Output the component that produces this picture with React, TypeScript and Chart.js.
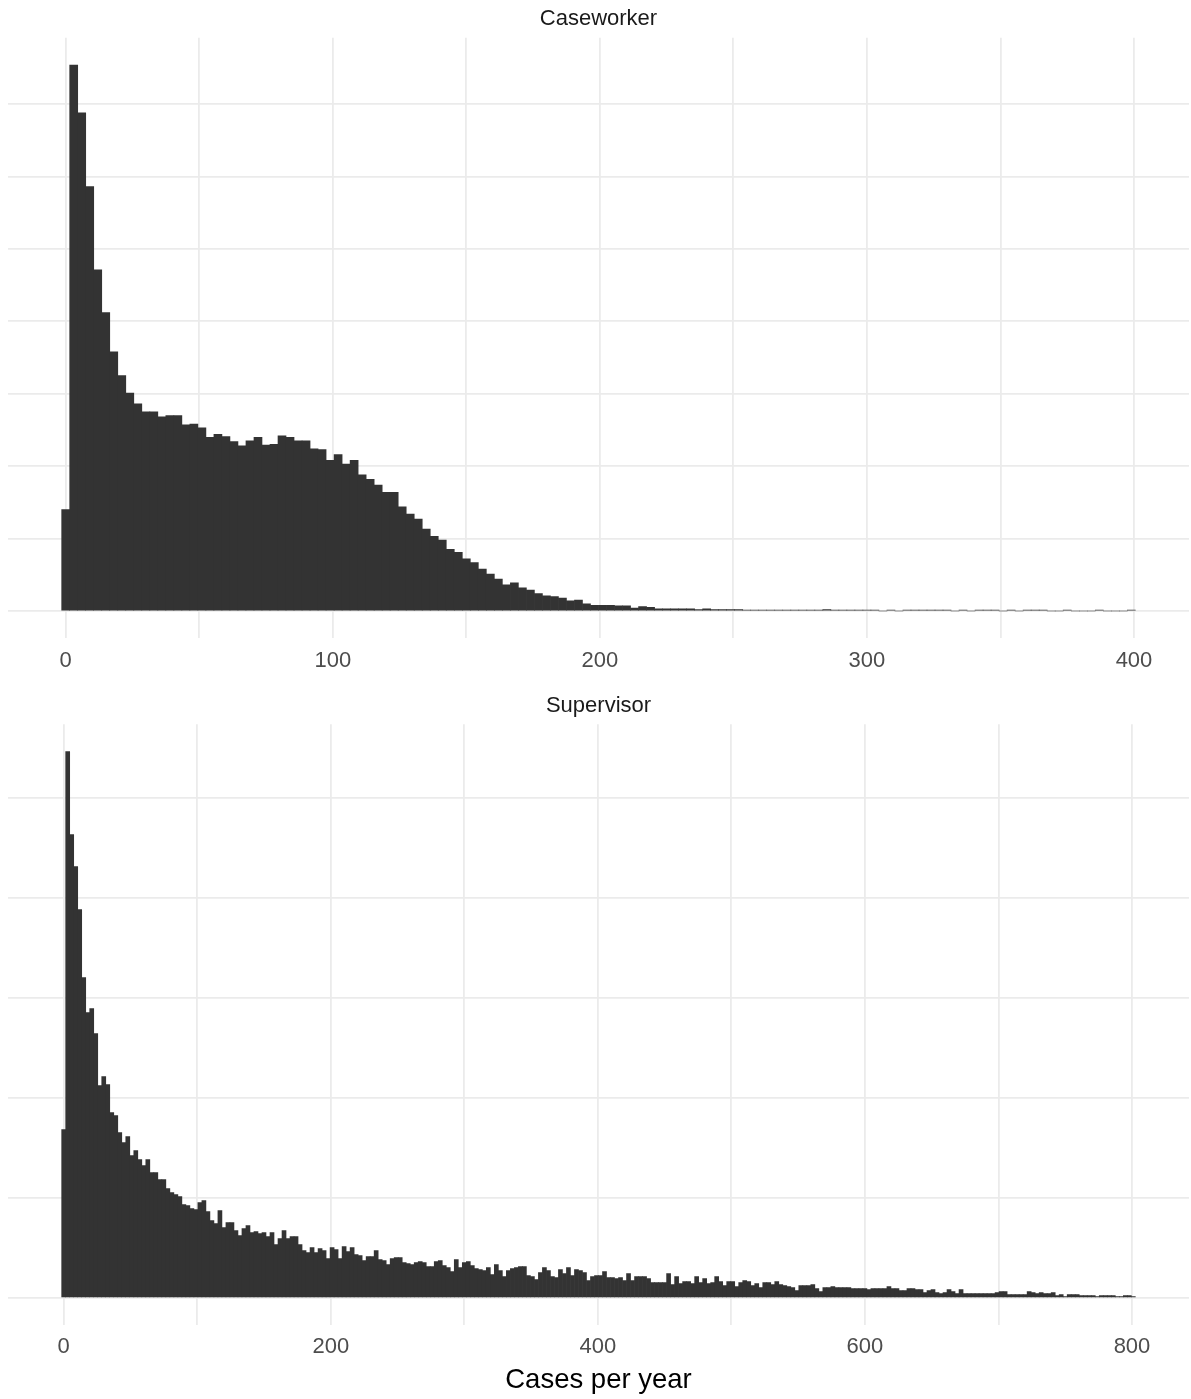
import React, { useEffect, useRef } from 'react';
import { Chart, registerables } from 'chart.js';

Chart.register(...registerables);

// ---- data -------------------------------------------------------------
const BIN_WIDTH = 3; // histogram bins are 3 cases wide, centred on 0, 3, 6, ...

const caseworkerCounts = [
  140, 754, 688, 586, 471, 412, 358, 325, 301, 286,
  275, 275, 268, 270, 270, 257, 258, 253, 240, 244,
  241, 234, 228, 235, 240, 229, 230, 242, 240, 235,
  235, 224, 223, 208, 216, 203, 208, 188, 182, 174,
  164, 164, 144, 134, 127, 113, 103, 98, 85, 81,
  72, 67, 58, 51, 44, 36, 39, 32, 29, 24,
  21, 20, 18, 14, 15, 10, 8, 8, 8, 7,
  7, 4, 6, 5, 3, 3, 3, 3, 3, 2,
  3, 2, 2, 2, 2, 1, 1, 1, 1, 1,
  1, 1, 1, 1, 1, 2, 1, 1, 1, 1,
  1, 1, 0, 1, 0, 1, 1, 1, 1, 1,
  1, 0, 1, 0, 1, 1, 1, 0, 1, 0,
  1, 1, 1, 0, 0, 1, 0, 0, 0, 1,
  0, 0, 0, 1,
];

const supervisorCounts = [
  168, 546, 463, 431, 388, 320, 285, 289, 264, 212,
  221, 213, 185, 182, 165, 155, 161, 142, 147, 138,
  132, 138, 125, 125, 118, 118, 109, 105, 103, 101,
  93, 92, 89, 88, 95, 97, 86, 77, 74, 87,
  70, 75, 75, 67, 62, 69, 72, 65, 66, 64,
  65, 61, 65, 53, 59, 67, 59, 61, 61, 53,
  47, 45, 50, 45, 49, 47, 39, 50, 48, 39,
  51, 46, 50, 43, 42, 37, 41, 41, 47, 38,
  37, 33, 39, 40, 40, 35, 34, 33, 35, 36,
  35, 31, 31, 36, 37, 32, 30, 26, 38, 30,
  35, 36, 32, 29, 28, 27, 30, 23, 33, 27,
  21, 27, 29, 30, 31, 31, 22, 21, 18, 25,
  30, 27, 21, 20, 28, 24, 30, 22, 28, 27,
  25, 17, 21, 22, 22, 26, 20, 20, 19, 20,
  17, 24, 17, 21, 21, 21, 19, 15, 15, 15,
  15, 24, 13, 21, 14, 16, 16, 14, 21, 15,
  19, 14, 15, 21, 16, 12, 16, 16, 11, 15,
  17, 16, 12, 14, 10, 15, 15, 13, 16, 13,
  12, 11, 10, 7, 12, 12, 12, 13, 9, 6,
  10, 10, 11, 10, 10, 10, 10, 9, 9, 9,
  9, 8, 9, 9, 9, 9, 11, 9, 9, 7,
  7, 9, 9, 8, 8, 5, 7, 8, 5, 4,
  5, 8, 6, 4, 8, 4, 4, 4, 4, 4,
  4, 4, 4, 5, 6, 6, 3, 3, 3, 3,
  3, 6, 5, 4, 5, 4, 4, 5, 2, 3,
  1, 3, 3, 3, 2, 2, 2, 2, 1, 2,
  2, 2, 2, 1, 1, 2, 2, 1,
];

const caseworkerTickLabels = [0, 100, 200, 300, 400];
const supervisorTickLabels = [0, 200, 400, 600, 800];

const FONT = "'Liberation Sans', Arial, Helvetica, sans-serif";
const Y_GRID_STEP = 100;

type PanelProps = {
  title: string;
  counts: number[];
  tickLabels: number[];
  gridStep: number;
  height: number;
  top: number;
  titlePad: { top: number; bottom: number };
  layoutPad: { left: number; right: number; top: number; bottom: number };
  xTitle?: string;
};

function HistogramPanel(props: PanelProps) {
  const ref = useRef<HTMLCanvasElement>(null);

  useEffect(() => {
    const canvas = ref.current;
    if (!canvas) return;
    const { counts } = props;
    const peak = Math.max(...counts);
    const lo = -BIN_WIDTH / 2;
    const hi = counts.length * BIN_WIDTH - BIN_WIDTH / 2;
    const span = hi - lo;
    const xMin = lo - 0.05 * span;
    const xMax = hi + 0.05 * span;

    const chart = new Chart(canvas, {
      type: 'bar',
      data: {
        datasets: [
          {
            data: counts.map((c, i) => ({ x: i * BIN_WIDTH, y: c })),
            backgroundColor: '#333333',
            borderWidth: 0,
            barPercentage: 1,
            categoryPercentage: 1,
          },
        ],
      },
      options: {
        responsive: false,
        animation: false,
        devicePixelRatio: 1,
        events: [],
        layout: { padding: props.layoutPad },
        plugins: {
          legend: { display: false },
          tooltip: { enabled: false },
          title: {
            display: true,
            text: props.title,
            color: '#1a1a1a',
            font: { family: FONT, size: 22, weight: 'normal' },
            padding: props.titlePad,
          },
        },
        scales: {
          x: {
            type: 'linear',
            min: xMin,
            max: xMax,
            offset: false,
            grid: {
              offset: false,
              color: '#ebebeb',
              lineWidth: 1.8,
              drawTicks: true,
              tickLength: 9,
              tickColor: 'rgba(0,0,0,0)',
            },
            border: { display: false },
            afterBuildTicks: (scale: any) => {
              const t: { value: number }[] = [];
              for (let v = 0; v <= xMax; v += props.gridStep) t.push({ value: v });
              scale.ticks = t;
            },
            ticks: {
              autoSkip: false,
              maxRotation: 0,
              padding: 0,
              color: '#4d4d4d',
              font: { family: FONT, size: 22 },
              callback: (v: any) =>
                props.tickLabels.includes(Number(v)) ? String(v) : '',
            },
            title: props.xTitle
              ? {
                  display: true,
                  text: props.xTitle,
                  color: '#000000',
                  font: { family: FONT, size: 27.5 },
                  padding: { top: 4, bottom: 0 },
                }
              : { display: false },
          },
          y: {
            min: -0.05 * peak,
            max: 1.05 * peak,
            grid: {
              color: '#ebebeb',
              lineWidth: 1.8,
              drawTicks: false,
            },
            border: { display: false },
            afterBuildTicks: (scale: any) => {
              const t: { value: number }[] = [];
              for (let v = 0; v <= peak * 1.05; v += Y_GRID_STEP) t.push({ value: v });
              scale.ticks = t;
            },
            ticks: { display: false },
          },
        },
      },
    } as any);

    return () => chart.destroy();
  }, []);

  return (
    <canvas
      ref={ref}
      width={1191}
      height={props.height}
      style={{ display: 'block', position: 'absolute', left: 0, top: props.top }}
    />
  );
}

export default function App() {
  return (
    <div
      style={{
        position: 'absolute',
        left: 0,
        top: 0,
        width: 1191,
        height: 1399,
        background: '#ffffff',
      }}
    >
      <HistogramPanel
        title="Caseworker"
        counts={caseworkerCounts}
        tickLabels={caseworkerTickLabels}
        gridStep={50}
        height={680}
        top={0}
        titlePad={{ top: 5.8, bottom: 5.5 }}
        layoutPad={{ left: 8, right: 2, top: 0, bottom: 6.3 }}
      />
      <HistogramPanel
        title="Supervisor"
        counts={supervisorCounts}
        tickLabels={supervisorTickLabels}
        gridStep={100}
        height={719}
        top={680}
        titlePad={{ top: 12.8, bottom: 5.1 }}
        layoutPad={{ left: 8, right: 2, top: 0, bottom: 1.6 }}
        xTitle="Cases per year"
      />
    </div>
  );
}
